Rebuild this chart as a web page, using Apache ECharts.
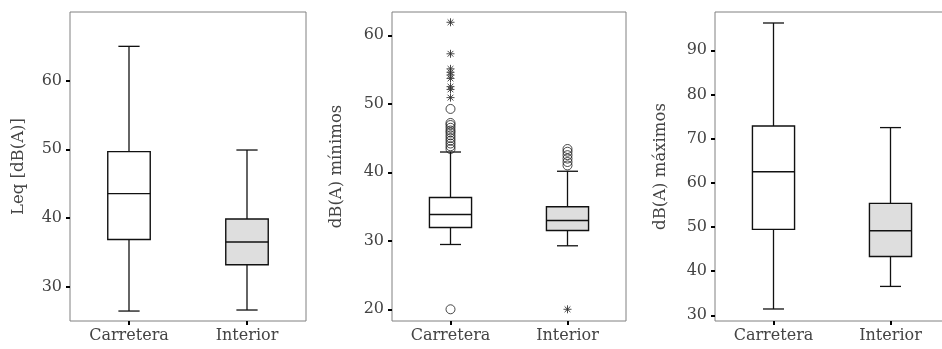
<!DOCTYPE html>
<html>
<head>
<meta charset="utf-8">
<script src="https://cdn.jsdelivr.net/npm/echarts@6/dist/echarts.min.js"></script>
<style>html,body{margin:0;padding:0;background:#fff}#c{width:942px;height:349px}</style>
</head>
<body>
<div id="c"></div>
<script>
// ---- data ----
const categories = ['Carretera', 'Interior'];
// [low whisker, Q1, median, Q3, high whisker]
const leqCarretera = [26.45, 36.86, 43.55, 49.66, 65.0];
const leqInterior = [26.6, 33.2, 36.5, 39.85, 49.9];
const minCarretera = [29.46, 31.94, 33.83, 36.31, 42.96];
const minInterior = [29.27, 31.5, 32.96, 34.96, 40.15];
const maxCarretera = [31.43, 49.46, 62.5, 72.85, 96.18];
const maxInterior = [36.54, 43.33, 49.16, 55.35, 72.5];
// outliers (panel "mínimos")
const minCarreteraCircles = [20.0, 49.25, 47.2, 46.9, 46.5, 46.1, 45.8, 45.4, 45.0, 44.6, 44.2, 43.8, 43.4];
const minCarreteraStars = [61.9, 57.3, 55.1, 54.6, 54.2, 53.7, 52.5, 52.1, 50.9];
const minInteriorCircles = [43.4, 43.0, 42.5, 42.0, 41.5, 41.0];
const minInteriorStars = [20.0];
// tick labels
const ticksLeq = [30, 40, 50, 60];
const ticksMin = [20, 30, 40, 50, 60];
const ticksMax = [30, 40, 50, 60, 70, 80, 90];
const titles = ['Leq [dB(A)]', 'dB(A) mínimos', 'dB(A) máximos'];

// ---- styles ----
const FONT = 'DejaVu Serif';
const TXT = '#444444';
const boxFill = ['#ffffff', '#dedede'];

const chart = echarts.init(document.getElementById('c'), null, {renderer: 'canvas'});

const grids = [
  {left: 70, width: 236, top: 12, height: 309},
  {left: 392, width: 234, top: 12, height: 309},
  {left: 715, width: 234, top: 12, height: 309}
].map(g => Object.assign({show: true, borderColor: '#808080', borderWidth: 1, backgroundColor: 'transparent', outerBoundsMode: 'none', containLabel: false}, g));

const yRanges = [[25, 70], [18.29, 63.4], [28.71, 98.67]];
const yTicks = [ticksLeq, ticksMin, ticksMax];
const nameGaps = [43, 47, 46];

const xAxes = grids.map((g, i) => ({
  gridIndex: i, type: 'category', data: categories, boundaryGap: true,
  axisLine: {show: false},
  axisTick: {show: true, alignWithLabel: true, length: 4, lineStyle: {color: '#000', width: 2}},
  axisLabel: {color: TXT, fontFamily: FONT, fontSize: 16, margin: 7},
  splitLine: {show: false}
}));

const yAxes = grids.map((g, i) => ({
  gridIndex: i, type: 'value', min: yRanges[i][0], max: yRanges[i][1],
  axisLine: {show: false},
  splitLine: {show: false},
  axisTick: {show: true, length: 4, lineStyle: {color: '#000', width: 2}, customValues: yTicks[i]},
  axisLabel: {color: TXT, fontFamily: FONT, fontSize: 16, margin: 8, customValues: yTicks[i]},
  name: titles[i], nameLocation: 'middle', nameGap: nameGaps[i], nameRotate: 90,
  nameTextStyle: {color: TXT, fontFamily: FONT, fontSize: 16.5}
}));

function boxRender(params, api) {
  const x = api.value(0);
  const low = api.coord([x, api.value(1)]);
  const q1 = api.coord([x, api.value(2)]);
  const med = api.coord([x, api.value(3)]);
  const q3 = api.coord([x, api.value(4)]);
  const high = api.coord([x, api.value(5)]);
  const band = api.size([1, 0])[0];
  const bw = band * 0.36;
  const cw = bw / 2;
  const cx = med[0];
  const ls = {stroke: '#111', lineWidth: 1.3};
  return {
    type: 'group',
    children: [
      {type: 'line', shape: {x1: cx, y1: high[1], x2: cx, y2: q3[1]}, style: ls},
      {type: 'line', shape: {x1: cx, y1: q1[1], x2: cx, y2: low[1]}, style: ls},
      {type: 'line', shape: {x1: cx - cw / 2, y1: high[1], x2: cx + cw / 2, y2: high[1]}, style: ls},
      {type: 'line', shape: {x1: cx - cw / 2, y1: low[1], x2: cx + cw / 2, y2: low[1]}, style: ls},
      {type: 'rect', shape: {x: cx - bw / 2, y: q3[1], width: bw, height: q1[1] - q3[1]},
        style: {fill: boxFill[x], stroke: '#111', lineWidth: 1.4}},
      {type: 'line', shape: {x1: cx - bw / 2, y1: med[1], x2: cx + bw / 2, y2: med[1]}, style: {stroke: '#111', lineWidth: 1.4}}
    ]
  };
}

function starRender(params, api) {
  const p = api.coord([api.value(0), api.value(1)]);
  const r = 4;
  const d = r * 0.72;
  const st = {stroke: '#333', lineWidth: 0.9};
  return {
    type: 'group',
    children: [
      {type: 'line', shape: {x1: p[0], y1: p[1] - r, x2: p[0], y2: p[1] + r}, style: st},
      {type: 'line', shape: {x1: p[0] - r, y1: p[1], x2: p[0] + r, y2: p[1]}, style: st},
      {type: 'line', shape: {x1: p[0] - d, y1: p[1] - d, x2: p[0] + d, y2: p[1] + d}, style: st},
      {type: 'line', shape: {x1: p[0] - d, y1: p[1] + d, x2: p[0] + d, y2: p[1] - d}, style: st}
    ]
  };
}

function boxSeries(i, a, b) {
  return {
    type: 'custom', xAxisIndex: i, yAxisIndex: i, renderItem: boxRender,
    encode: {x: 0, y: [1, 2, 3, 4, 5]},
    data: [[0].concat(a), [1].concat(b)], z: 2, silent: true
  };
}

const circleData = minCarreteraCircles.map(v => [0, v]).concat(minInteriorCircles.map(v => [1, v]));
const starData = minCarreteraStars.map(v => [0, v]).concat(minInteriorStars.map(v => [1, v]));

chart.setOption({
  animation: false,
  grid: grids,
  xAxis: xAxes,
  yAxis: yAxes,
  series: [
    boxSeries(0, leqCarretera, leqInterior),
    boxSeries(1, minCarretera, minInterior),
    boxSeries(2, maxCarretera, maxInterior),
    {
      type: 'scatter', xAxisIndex: 1, yAxisIndex: 1, data: circleData, symbol: 'circle', symbolSize: 9,
      itemStyle: {color: 'rgba(255,255,255,0)', borderColor: '#1a1a1a', borderWidth: 1}, z: 3, silent: true
    },
    {
      type: 'custom', xAxisIndex: 1, yAxisIndex: 1, renderItem: starRender,
      encode: {x: 0, y: 1}, data: starData, z: 3, silent: true
    }
  ]
});
</script>
</body>
</html>
